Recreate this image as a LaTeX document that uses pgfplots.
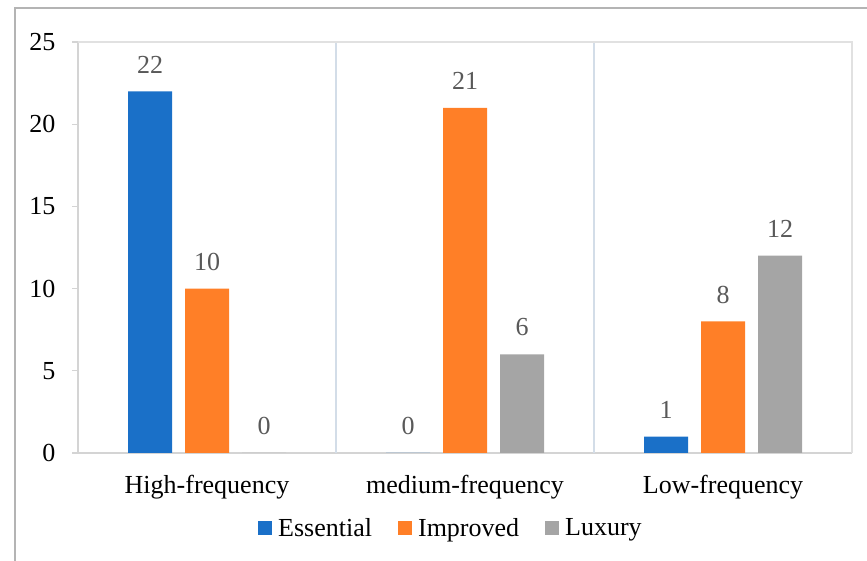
\documentclass[border=0pt]{standalone}
\usepackage{pgfplots}
\pgfplotsset{compat=1.18}
\usepackage{fontspec}
\setmainfont{Liberation Serif}
\definecolor{cblue}{HTML}{1A70C8}
\definecolor{corange}{HTML}{FF7F27}
\definecolor{cgray}{HTML}{A5A5A5}
\definecolor{lblgray}{HTML}{595959}
\definecolor{axgray}{HTML}{D4D4D4}
\definecolor{sepcol}{HTML}{D3DDE8}
\definecolor{framecol}{HTML}{B4B4B4}
\begin{document}
\begin{tikzpicture}[x=1pt,y=1pt]
\useasboundingbox (0,0) rectangle (867,561);
\draw[framecol, line width=2pt] (15,-5) -- (15,553) -- (875,553);
\begin{axis}[
  at={(78pt,108pt)}, anchor=south west,
  scale only axis, width=774pt, height=411pt,
  ybar=13pt, bar width=44pt,
  xmin=-0.5, xmax=2.5, ymin=0, ymax=25,
  xtick={0,1,2},
  xticklabels={High-frequency,medium-frequency,Low-frequency},
  ytick={0,5,10,15,20,25},
  /pgf/number format/assume math mode=true,
  tick label style={font=\fontsize{26}{30}\selectfont, text=black},
  x tick style={draw=none},
  major x tick style={draw=none},
  xticklabel style={yshift=-13pt},
  y tick style={axgray, line width=1.2pt},
  tick align=outside, major tick length=6pt,
  yticklabel style={xshift=-13pt},
  axis line style={axgray, line width=2pt},
  axis x line*=bottom, axis y line*=left,
  enlarge x limits=false,
  clip=false,
  nodes near coords,
  every node near coord/.append style={font=\fontsize{26}{30}\selectfont, text=lblgray, anchor=south, inner sep=0pt, yshift=18pt},
  legend columns=3,
  legend style={draw=none, fill=none, at={(axis description cs:0.4806,0)}, yshift=-75pt, anchor=center,
    font=\fontsize{26}{30}\selectfont, inner sep=0pt,
    nodes={inner sep=0pt},
    /tikz/every odd column/.append style={column sep=6pt},
    /tikz/every even column/.append style={column sep=26pt}},
  legend image code/.code={\fill[#1,draw=none] (0pt,-7pt) rectangle (14pt,7pt);},
]
\draw[sepcol, line width=1.5pt] (axis cs:0.5,0) -- (axis cs:0.5,25);
\draw[sepcol, line width=1.5pt] (axis cs:1.5,0) -- (axis cs:1.5,25);
\draw[axgray!70, line width=2pt] (axis cs:-0.5,25) -- (axis cs:2.5,25) -- (axis cs:2.5,0);
\addplot[fill=cblue, draw=none] coordinates {(0,22) (1,0) (2,1)};
\addplot[fill=corange, draw=none] coordinates {(0,10) (1,21) (2,8)};
\addplot[fill=cgray, draw=none] coordinates {(0,0) (1,6) (2,12)};
\legend{Essential,Improved,Luxury}
\end{axis}
\end{tikzpicture}
\end{document}
